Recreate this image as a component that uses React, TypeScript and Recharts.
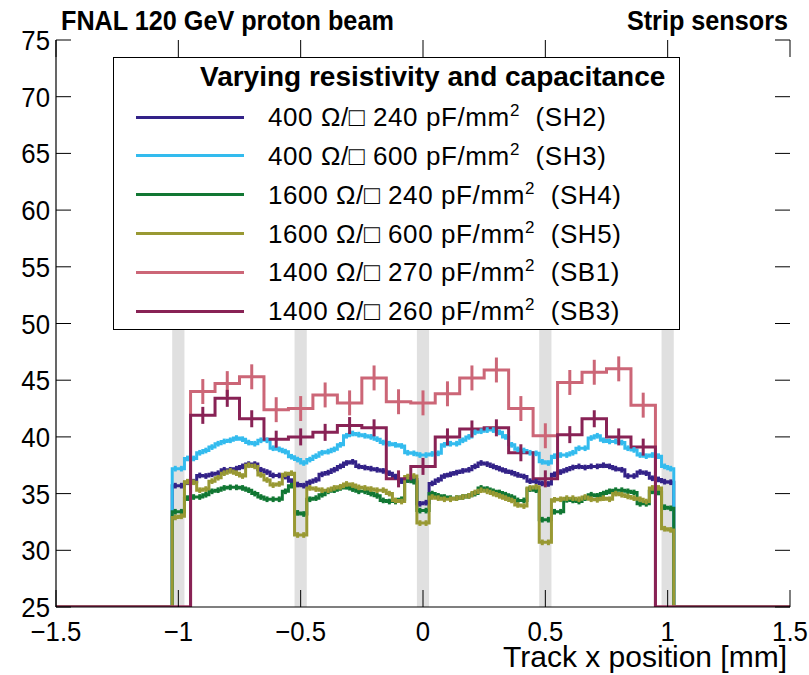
import {
  ComposedChart,
  Line,
  Scatter,
  ErrorBar,
  XAxis,
  YAxis,
  ReferenceArea,
  Legend,
} from "recharts";

document.body.style.margin = "0";

const FONT = '"Liberation Sans", Arial, Helvetica, sans-serif';

// axis ranges and ticks
const X_MIN = -1.5;
const X_MAX = 1.5;
const Y_MIN = 25;
const Y_MAX = 75;
const xMajorTicks = [-1.5, -1, -0.5, 0, 0.5, 1, 1.5];
const xMinorTicks = Array.from({ length: 31 }, (_, i) => Math.round((-1.5 + i * 0.1) * 10) / 10);
const yMajorTicks = [25, 30, 35, 40, 45, 50, 55, 60, 65, 70, 75];
const yMinorTicks = Array.from({ length: 51 }, (_, i) => 25 + i);

// strip positions (grey bands)
const stripCenters = [-1, -0.5, 0, 0.5, 1];
const STRIP_HALF = 0.025;

// SH sensors: 82 bins of 0.025 mm starting at -1.025 mm
const SH_START = -1.025;
const SH_WIDTH = 0.025;
const SH_ERR = 0.25;

const sh2 = [
  35.7, 35.7, 36.0, 36.05, 36.6, 36.55, 36.7, 36.8, 37.1, 37.1, 37.2, 37.4, 37.6, 37.6, 37.1, 36.9, 36.6, 36.6, 36.5, 36.1,
  35.8, 35.7, 36.0, 36.2, 36.7, 36.85, 37.1, 37.4, 37.7, 37.8, 37.4, 37.3, 37.2, 37.1, 37.0, 36.8, 36.5, 36.1, 36.2, 36.25,
  34.1, 34.2, 35.9, 36.2, 36.55, 36.7, 36.85, 37.0, 37.1, 37.4, 37.7, 37.6, 37.4, 37.2, 37.0, 36.85, 36.65, 36.5, 36.1, 36.05,
  35.9, 35.85, 36.7, 36.9, 37.1, 37.3, 37.4, 37.3, 37.4, 37.4, 37.5, 37.4, 37.2, 37.1, 36.55, 36.55, 36.9, 36.8, 36.35, 36.25,
  36.05, 36.0,
];
const sh3 = [
  37.2, 37.2, 38.1, 38.1, 38.6, 38.8, 39.1, 39.4, 39.6, 39.7, 39.9, 39.8, 39.5, 39.4, 39.7, 39.7, 39.0, 38.9, 38.7, 38.25,
  38.0, 37.7, 38.0, 38.3, 38.6, 38.7, 38.9, 39.3, 40.1, 40.3, 40.2, 40.1, 40.0, 39.8, 39.5, 39.4, 39.3, 39.2, 38.6, 38.55,
  38.4, 38.4, 38.5, 38.55, 39.3, 39.4, 39.4, 39.7, 40.0, 40.4, 40.5, 40.6, 40.6, 40.4, 40.0, 39.3, 38.9, 38.8, 38.6, 38.55,
  37.8, 37.7, 38.3, 38.4, 38.4, 38.6, 39.0, 39.0, 39.9, 40.1, 39.7, 39.6, 39.6, 39.5, 39.0, 38.85, 38.4, 38.3, 38.4, 38.3,
  37.4, 37.2,
];
const sh4 = [
  33.4, 33.4, 34.6, 34.7, 34.7, 34.9, 35.2, 35.3, 35.5, 35.55, 35.55, 35.5, 35.3, 35.0, 34.7, 34.5, 34.5, 34.5, 35.2, 35.7,
  33.3, 33.2, 34.5, 34.6, 34.9, 35.2, 35.3, 35.5, 35.6, 35.4, 35.2, 35.2, 35.0, 34.8, 34.4, 34.3, 34.3, 34.5, 36.2, 36.05,
  33.5, 33.5, 35.0, 34.8, 34.7, 34.6, 34.6, 34.7, 34.8, 35.0, 35.5, 35.4, 35.2, 35.1, 34.9, 34.7, 34.4, 34.4, 35.4, 35.3,
  32.7, 32.7, 33.4, 33.4, 34.45, 34.4, 34.3, 34.6, 34.9, 34.8, 35.0, 35.2, 35.3, 35.3, 35.2, 35.1, 34.1, 34.1, 35.2, 35.1,
  33.8, 33.7,
];
const sh5 = [
  32.9, 33.0, 36.05, 36.0, 35.3, 35.4, 36.1, 36.4, 36.8, 37.0, 36.8, 36.55, 37.5, 37.4, 36.65, 36.2, 35.75, 35.85, 36.7, 36.8,
  31.35, 31.35, 35.5, 35.4, 35.3, 35.3, 35.5, 35.6, 35.85, 35.75, 35.55, 35.5, 35.4, 35.3, 35.3, 35.0, 34.4, 34.3, 36.5, 36.55,
  32.4, 32.4, 34.7, 34.6, 34.5, 34.5, 34.6, 34.7, 34.8, 35.1, 35.3, 35.2, 35.0, 34.8, 34.6, 34.4, 34.0, 33.9, 35.5, 35.6,
  30.7, 30.7, 34.45, 34.5, 34.6, 34.6, 34.5, 34.7, 34.5, 34.45, 34.6, 34.5, 35.0, 34.9, 34.75, 34.6, 34.5, 34.3, 35.5, 35.5,
  31.9, 31.8,
];

// SB sensors: 19 bins of 0.1 mm starting at -0.95 mm
const SB_START = -0.95;
const SB_WIDTH = 0.1;
const sb1 = [44.0, 44.7, 45.3, 42.4, 42.5, 43.7, 43.0, 45.2, 43.1, 43.0, 43.8, 45.2, 45.9, 42.5, 40.1, 44.8, 45.7, 46.0, 42.8];
const sb3 = [41.9, 43.4, 41.6, 39.8, 40.0, 40.4, 41.0, 40.8, 36.3, 37.4, 40.0, 40.7, 40.8, 38.6, 36.3, 40.2, 41.6, 40.0, 39.1];
const SB1_ERR = 1.1;
const SB3_ERR = 0.75;

// legend / series info
const seriesIds = ["SH2", "SH3", "SH4", "SH5", "SB1", "SB3"];
const resistivity = [400, 400, 1600, 1600, 1400, 1400];
const capacitance = [240, 600, 240, 600, 270, 260];
const colors = ["#332288", "#33bbee", "#117733", "#999933", "#cc6677", "#882255"];

// plot frame in pixels
const PLOT_L = 56;
const PLOT_R = 790;
const PLOT_T = 40;
const PLOT_B = 607;

function stepPoints(start: number, width: number, values: number[]) {
  const pts = [{ x: X_MIN, y: Y_MIN }];
  values.forEach((v, i) => pts.push({ x: start + i * width, y: v }));
  pts.push({ x: start + values.length * width, y: Y_MIN });
  pts.push({ x: X_MAX, y: Y_MIN });
  return pts;
}

function centerPoints(start: number, width: number, values: number[], err: number) {
  return values.map((v, i) => ({ x: start + (i + 0.5) * width, y: v, e: err }));
}

const series = [
  { id: seriesIds[0], steps: stepPoints(SH_START, SH_WIDTH, sh2), pts: centerPoints(SH_START, SH_WIDTH, sh2, SH_ERR) },
  { id: seriesIds[1], steps: stepPoints(SH_START, SH_WIDTH, sh3), pts: centerPoints(SH_START, SH_WIDTH, sh3, SH_ERR) },
  { id: seriesIds[2], steps: stepPoints(SH_START, SH_WIDTH, sh4), pts: centerPoints(SH_START, SH_WIDTH, sh4, SH_ERR) },
  { id: seriesIds[3], steps: stepPoints(SH_START, SH_WIDTH, sh5), pts: centerPoints(SH_START, SH_WIDTH, sh5, SH_ERR) },
  { id: seriesIds[4], steps: stepPoints(SB_START, SB_WIDTH, sb1), pts: centerPoints(SB_START, SB_WIDTH, sb1, SB1_ERR) },
  { id: seriesIds[5], steps: stepPoints(SB_START, SB_WIDTH, sb3), pts: centerPoints(SB_START, SB_WIDTH, sb3, SB3_ERR) },
];

const fmt = (v: number) => (v < 0 ? "\u2212" + Math.abs(v) : String(v));

function XMajorTick({ x, payload }: any) {
  return (
    <g>
      <line x1={x} x2={x} y1={PLOT_B} y2={PLOT_B - 17} stroke="#000" />
      <line x1={x} x2={x} y1={PLOT_T} y2={PLOT_T + 17} stroke="#000" />
      <text
        transform={`translate(${x},${PLOT_B + 34}) scale(0.92,1)`}
        textAnchor="middle"
        fontSize={28}
        fill="#000"
      >
        {fmt(payload.value)}
      </text>
    </g>
  );
}

function XMinorTick({ x }: any) {
  return (
    <g>
      <line x1={x} x2={x} y1={PLOT_B} y2={PLOT_B - 8.5} stroke="#000" />
      <line x1={x} x2={x} y1={PLOT_T} y2={PLOT_T + 8.5} stroke="#000" />
    </g>
  );
}

function YMajorTick({ y, payload }: any) {
  return (
    <g>
      <line x1={PLOT_L} x2={PLOT_L + 15} y1={y} y2={y} stroke="#000" />
      <line x1={PLOT_R} x2={PLOT_R - 15} y1={y} y2={y} stroke="#000" />
      <text
        transform={`translate(${PLOT_L - 6},${y + 10}) scale(0.92,1)`}
        textAnchor="end"
        fontSize={28}
        fill="#000"
      >
        {payload.value}
      </text>
    </g>
  );
}

function YMinorTick({ y }: any) {
  return (
    <g>
      <line x1={PLOT_L} x2={PLOT_L + 7.5} y1={y} y2={y} stroke="#000" />
      <line x1={PLOT_R} x2={PLOT_R - 7.5} y1={y} y2={y} stroke="#000" />
    </g>
  );
}

function LegendBox({ payload }: any) {
  const items = (payload || [])
    .filter((p: any) => seriesIds.includes(p.value))
    .sort((a: any, b: any) => seriesIds.indexOf(a.value) - seriesIds.indexOf(b.value));
  return (
    <div
      style={{
        width: 567,
        height: 273,
        boxSizing: "border-box",
        border: "1.5px solid #000",
        background: "#fff",
        position: "relative",
        fontFamily: FONT,
        color: "#000",
      }}
    >
      <div
        style={{
          position: "absolute",
          left: 86,
          top: 3,
          fontSize: 28,
          fontWeight: "bold",
          lineHeight: "32px",
          whiteSpace: "pre",
        }}
      >
        Varying resistivity and capacitance
      </div>
      {items.map((p: any, i: number) => {
        const k = seriesIds.indexOf(p.value);
        return (
          <div
            key={p.value}
            style={{ position: "absolute", left: 0, top: 40 + i * 38.8, height: 38, display: "flex", alignItems: "center" }}
          >
            <span style={{ display: "inline-block", marginLeft: 22, width: 108, height: 3, background: p.color }} />
            <span style={{ marginLeft: 24, fontSize: 26, letterSpacing: 0.6, whiteSpace: "pre" }}>
              {`${resistivity[k]} \u03A9/\u25A1 ${capacitance[k]} pF/mm`}
              <sup style={{ fontSize: 17 }}>2</sup>
              {`  (${seriesIds[k]})`}
            </span>
          </div>
        );
      })}
    </div>
  );
}

export default function App() {
  return (
    <div style={{ position: "relative", width: 809, height: 675, fontFamily: FONT, background: "#fff" }}>
      <ComposedChart width={809} height={675} margin={{ top: PLOT_T, right: 809 - PLOT_R, left: 0, bottom: 0 }}>
        <XAxis
          xAxisId={0}
          dataKey="x"
          type="number"
          domain={[X_MIN, X_MAX]}
          allowDataOverflow
          ticks={xMajorTicks}
          interval={0}
          tickSize={0}
          tickMargin={0}
          tickLine={false}
          tick={XMajorTick}
          axisLine={{ stroke: "#000", strokeWidth: 1.2 }}
          height={675 - PLOT_B}
          label={{
            content: (props: any) => {
              const vb = props.viewBox || { x: PLOT_L, y: PLOT_B, width: PLOT_R - PLOT_L, height: 675 - PLOT_B };
              return (
                <text x={vb.x + vb.width - 3} y={vb.y + vb.height - 8} textAnchor="end" fontSize={30} fill="#000">
                  Track x position [mm]
                </text>
              );
            },
          }}
        />
        <XAxis
          xAxisId="minor"
          orientation="top"
          dataKey="x"
          type="number"
          domain={[X_MIN, X_MAX]}
          allowDataOverflow
          ticks={xMinorTicks}
          interval={0}
          tickSize={0}
          tickMargin={0}
          tickLine={false}
          tick={XMinorTick}
          axisLine={{ stroke: "#000", strokeWidth: 1.2 }}
          height={0}
        />
        <YAxis
          yAxisId={0}
          type="number"
          domain={[Y_MIN, Y_MAX]}
          allowDataOverflow
          ticks={yMajorTicks}
          interval={0}
          tickSize={0}
          tickMargin={0}
          tickLine={false}
          tick={YMajorTick}
          axisLine={{ stroke: "#000", strokeWidth: 1.2 }}
          width={PLOT_L}
        />
        <YAxis
          yAxisId="minor"
          orientation="right"
          type="number"
          domain={[Y_MIN, Y_MAX]}
          allowDataOverflow
          ticks={yMinorTicks}
          interval={0}
          tickSize={0}
          tickMargin={0}
          tickLine={false}
          tick={YMinorTick}
          axisLine={{ stroke: "#000", strokeWidth: 1.2 }}
          width={0}
        />

        {stripCenters.map((c) => (
          <ReferenceArea
            key={c}
            xAxisId={0}
            yAxisId={0}
            x1={c - STRIP_HALF}
            x2={c + STRIP_HALF}
            y1={Y_MIN}
            y2={70}
            fill="#e0e0e0"
            fillOpacity={1}
            stroke="none"
          />
        ))}

        {series.map((s, i) => (
          <Line
            key={s.id}
            xAxisId={0}
            yAxisId={0}
            data={s.steps}
            dataKey="y"
            name={s.id}
            type="stepAfter"
            stroke={colors[i]}
            strokeWidth={3}
            dot={false}
            activeDot={false}
            isAnimationActive={false}
          />
        ))}
        {series.map((s, i) => (
          <Scatter
            key={s.id + "-err"}
            xAxisId={0}
            yAxisId={0}
            data={s.pts}
            dataKey="y"
            legendType="none"
            shape={() => <g />}
            isAnimationActive={false}
          >
            <ErrorBar dataKey="e" direction="y" width={0} stroke={colors[i]} strokeWidth={3} isAnimationActive={false} />
          </Scatter>
        ))}

        <Legend
          layout="horizontal"
          verticalAlign="middle"
          align="center"
          content={LegendBox}
          wrapperStyle={{ left: 113, top: 57, width: 567, height: 273 }}
        />
      </ComposedChart>

      <div
        style={{
          position: "absolute",
          left: 61,
          top: 5,
          fontSize: 28,
          fontWeight: "bold",
          lineHeight: "32px",
          whiteSpace: "pre",
          transform: "scaleX(0.9)",
          transformOrigin: "left center",
        }}
      >
        FNAL 120 GeV proton beam
      </div>
      <div
        style={{
          position: "absolute",
          right: 809 - 788,
          top: 5,
          fontSize: 28,
          fontWeight: "bold",
          lineHeight: "32px",
          whiteSpace: "pre",
          transform: "scaleX(0.9)",
          transformOrigin: "right center",
        }}
      >
        Strip sensors
      </div>
    </div>
  );
}
